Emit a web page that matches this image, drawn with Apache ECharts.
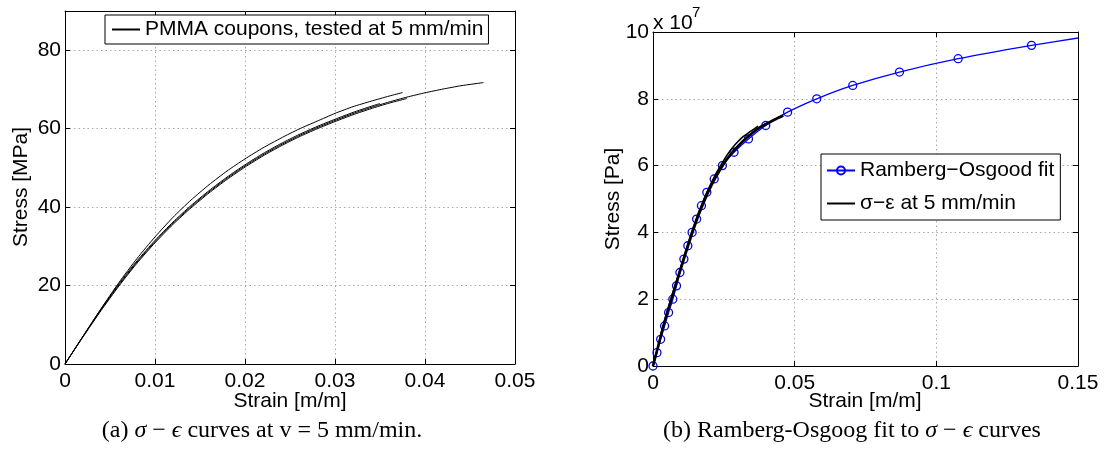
<!DOCTYPE html>
<html><head><meta charset="utf-8">
<script src="https://cdn.jsdelivr.net/npm/echarts@6/dist/echarts.min.js"></script>
<style>html,body{margin:0;padding:0;background:#fff}#c{width:1105px;height:457px}</style>
</head><body><div id="c"></div><script>
// ---------- data: left panel (strain [m/m], stress [MPa]) ----------
const couponA = [[0,0],[0.002,7.1],[0.004,14.1],[0.006,20.8],[0.008,26.9],[0.010,32.4],[0.012,37.4],[0.014,41.8],[0.016,45.7],[0.018,49.2],[0.020,52.3],[0.022,55.1],[0.024,57.6],[0.026,59.9],[0.028,61.9],[0.030,63.9],[0.032,65.6],[0.034,67.0],[0.036,68.3],[0.0375,69.2]];
const couponB = [[0,0],[0.002,7.0],[0.004,13.8],[0.006,20.2],[0.008,26.0],[0.010,31.2],[0.012,35.9],[0.014,40.1],[0.016,43.9],[0.018,47.35],[0.020,50.5],[0.022,53.35],[0.024,55.9],[0.026,58.2],[0.028,60.25],[0.030,62.1],[0.032,63.85],[0.034,65.4],[0.036,66.8],[0.038,68.05],[0.040,69.15],[0.042,70.1],[0.044,70.95],[0.0465,71.75]];
const couponC = [[0,0],[0.002,6.9],[0.004,13.6],[0.006,19.9],[0.008,25.7],[0.010,30.9],[0.012,35.6],[0.014,39.8],[0.016,43.6],[0.018,47.05],[0.020,50.2],[0.022,53.05],[0.024,55.6],[0.026,57.9],[0.028,59.95],[0.030,61.8],[0.032,63.55],[0.034,65.1],[0.036,66.5],[0.038,67.7]];
const couponD = [[0,0],[0.002,7.05],[0.004,14.0],[0.006,20.5],[0.008,26.3],[0.010,31.5],[0.012,36.2],[0.014,40.4],[0.016,44.2],[0.018,47.65],[0.020,50.8],[0.022,53.65],[0.024,56.2],[0.026,58.5],[0.028,60.55],[0.030,62.4],[0.032,64.15],[0.034,65.7],[0.035,66.4]];
// ---------- data: right panel (strain [m/m], stress [Pa]) ----------
const rambergOsgood = [[0,0],[0.0014,0.4e7],[0.0027,0.8e7],[0.0041,1.2e7],[0.0055,1.6e7],[0.0070,2.0e7],[0.0083,2.4e7],[0.0095,2.8e7],[0.0109,3.2e7],[0.0123,3.6e7],[0.0138,4.0e7],[0.0154,4.4e7],[0.0171,4.8e7],[0.0190,5.2e7],[0.0216,5.6e7],[0.0245,6.0e7],[0.0286,6.4e7],[0.0337,6.8e7],[0.0398,7.2e7],[0.0475,7.6e7],[0.0578,8.0e7],[0.0705,8.4e7],[0.0870,8.8e7],[0.1077,9.2e7],[0.1336,9.6e7],[0.15,9.82e7]];
const sigmaEps1 = [[0,0],[0.002,0.65e7],[0.004,1.3e7],[0.006,1.87e7],[0.008,2.42e7],[0.010,2.96e7],[0.012,3.5e7],[0.014,4.02e7],[0.016,4.5e7],[0.018,4.92e7],[0.020,5.3e7],[0.022,5.63e7],[0.024,5.92e7],[0.026,6.18e7],[0.028,6.4e7],[0.030,6.58e7],[0.032,6.75e7],[0.034,6.9e7],[0.036,7.04e7],[0.038,7.16e7],[0.040,7.25e7],[0.043,7.38e7],[0.046,7.5e7]];
const sigmaEps2 = [[0,0],[0.002,0.67e7],[0.004,1.33e7],[0.006,1.91e7],[0.008,2.48e7],[0.010,3.03e7],[0.012,3.58e7],[0.014,4.1e7],[0.016,4.58e7],[0.018,5.0e7],[0.020,5.38e7],[0.022,5.72e7],[0.024,6.02e7],[0.026,6.3e7],[0.028,6.53e7],[0.030,6.72e7],[0.032,6.88e7],[0.034,7.0e7],[0.0371,7.18e7]];
// ---------- text ----------
const leftLegend = 'PMMA coupons, tested at 5 mm/min';
const rightLegend = ['Ramberg\u2212Osgood fit', '\u03c3\u2212\u03b5 at 5 mm/min'];

const FONT = "'Liberation Sans', Arial, Helvetica, sans-serif";
const SERIF = "'Liberation Serif', 'Times New Roman', serif";

function xAx(grid, min, max, interval, pos, labels) {
  return {
    type: 'value', gridIndex: grid, min: min, max: max, interval: interval, position: pos,
    axisLine: { show: true, onZero: false, lineStyle: { color: '#000', width: 1 } },
    axisTick: { show: true, inside: true, length: 5, lineStyle: { color: '#000' } },
    axisLabel: { show: labels, color: '#000', fontSize: 21, fontFamily: FONT, margin: 7 },
    splitLine: { show: labels, lineStyle: { color: '#a8a8a8', type: [1.5, 3], width: 1 } }
  };
}
function yAx(grid, min, max, interval, pos, labels, fmt) {
  return {
    type: 'value', gridIndex: grid, min: min, max: max, interval: interval, position: pos,
    axisLine: { show: true, onZero: false, lineStyle: { color: '#000', width: 1 } },
    axisTick: { show: true, inside: true, length: 5, lineStyle: { color: '#000' } },
    axisLabel: { show: labels, color: '#000', fontSize: 21, fontFamily: FONT, margin: 4, showMaxLabel: max % interval === 0, formatter: fmt },
    splitLine: { show: labels, lineStyle: { color: '#a8a8a8', type: [1.5, 3], width: 1 } }
  };
}

function coupon(data) {
  return { type: 'line', name: leftLegend, xAxisIndex: 0, yAxisIndex: 0, data: data,
    showSymbol: false, symbol: 'none', smooth: 0.2, lineStyle: { color: '#000', width: 1 }, itemStyle: { color: '#000', opacity: 0 }, z: 3 };
}
function sig(data, w) {
  return { type: 'line', name: rightLegend[1], xAxisIndex: 2, yAxisIndex: 2, data: data,
    showSymbol: false, symbol: 'none', smooth: 0.2, lineStyle: { color: '#000', width: w }, itemStyle: { color: '#000', opacity: 0 }, z: 4 };
}

const chart = echarts.init(document.getElementById('c'), null, { renderer: 'canvas' });
chart.setOption({
  animation: false,
  backgroundColor: '#fff',
  grid: [
    { left: 65, top: 11, width: 450, height: 353 },
    { left: 653, top: 32, width: 425, height: 334 }
  ],
  xAxis: [
    xAx(0, 0, 0.05, 0.01, 'bottom', true),
    xAx(0, 0, 0.05, 0.01, 'top', false),
    xAx(1, 0, 0.15, 0.05, 'bottom', true),
    xAx(1, 0, 0.15, 0.05, 'top', false)
  ],
  yAxis: [
    yAx(0, 0, 90, 20, 'left', true),
    yAx(0, 0, 90, 20, 'right', false),
    yAx(1, 0, 1e8, 2e7, 'left', true, v => String(Math.round(v / 1e7))),
    yAx(1, 0, 1e8, 2e7, 'right', false)
  ],
  legend: [
    { data: [leftLegend], left: 105, top: 15, orient: 'horizontal', itemWidth: 28, itemHeight: 10,
      padding: [2, 5, 2, 6], borderColor: '#000', borderWidth: 1, backgroundColor: '#fff',
      textStyle: { fontSize: 21, fontFamily: FONT, color: '#000', lineHeight: 25 } },
    { data: rightLegend, left: 821, top: 154, orient: 'vertical', itemGap: 8, itemWidth: 28, itemHeight: 10,
      padding: [4, 6, 4, 5], borderColor: '#000', borderWidth: 1, backgroundColor: '#fff',
      textStyle: { fontSize: 21, fontFamily: FONT, color: '#000', lineHeight: 25 } }
  ],
  series: [
    coupon(couponA), coupon(couponB), coupon(couponC), coupon(couponD),
    { type: 'line', name: rightLegend[0], xAxisIndex: 2, yAxisIndex: 2,
      data: rambergOsgood.map((p, i) => i === rambergOsgood.length - 1 ? { value: p, symbol: 'none' } : p),
      symbol: 'circle', symbolSize: 8, showAllSymbol: true, smooth: 0.2,
      lineStyle: { color: '#0000ff', width: 1.3 },
      itemStyle: { color: 'rgba(255,255,255,0)', borderColor: '#0000ff', borderWidth: 1.3 }, z: 2 },
    sig(sigmaEps1, 2.6), sig(sigmaEps2, 1.6)
  ],
  graphic: [
    { type: 'text', x: 21, y: 187, rotation: Math.PI / 2,
      style: { text: 'Stress [MPa]', fontSize: 21, fontFamily: FONT, fill: '#000', align: 'center', verticalAlign: 'middle', textAlign: 'center', textVerticalAlign: 'middle' } },
    { type: 'text', x: 290, y: 401,
      style: { text: 'Strain [m/m]', fontSize: 21, fontFamily: FONT, fill: '#000', align: 'center', verticalAlign: 'middle', textAlign: 'center', textVerticalAlign: 'middle' } },
    { type: 'text', x: 613, y: 199, rotation: Math.PI / 2,
      style: { text: 'Stress [Pa]', fontSize: 21, fontFamily: FONT, fill: '#000', align: 'center', verticalAlign: 'middle', textAlign: 'center', textVerticalAlign: 'middle' } },
    { type: 'text', x: 865, y: 401,
      style: { text: 'Strain [m/m]', fontSize: 21, fontFamily: FONT, fill: '#000', align: 'center', verticalAlign: 'middle', textAlign: 'center', textVerticalAlign: 'middle' } },
    { type: 'text', x: 653, y: 23,
      style: { text: 'x 10', fontSize: 21, fontFamily: FONT, fill: '#000', align: 'left', verticalAlign: 'middle', textAlign: 'left', textVerticalAlign: 'middle' } },
    { type: 'text', x: 692, y: 13,
      style: { text: '7', fontSize: 15, fontFamily: FONT, fill: '#000', align: 'left', verticalAlign: 'middle', textAlign: 'left', textVerticalAlign: 'middle' } },
    { type: 'text', x: 262, y: 431,
      style: { text: '(a) {i|\u03c3} \u2212 {i|\u03f5} curves at v = 5 mm/min.', fontSize: 24, fontFamily: SERIF, fill: '#000',
        align: 'center', verticalAlign: 'middle', textAlign: 'center', textVerticalAlign: 'middle',
        rich: { i: { fontStyle: 'italic', fontSize: 24, fontFamily: SERIF, fill: '#000', color: '#000' } } } },
    { type: 'text', x: 852, y: 431,
      style: { text: '(b) Ramberg-Osgoog fit to {i|\u03c3} \u2212 {i|\u03f5} curves', fontSize: 24, fontFamily: SERIF, fill: '#000',
        align: 'center', verticalAlign: 'middle', textAlign: 'center', textVerticalAlign: 'middle',
        rich: { i: { fontStyle: 'italic', fontSize: 24, fontFamily: SERIF, fill: '#000', color: '#000' } } } }
  ]
});
</script></body></html>
